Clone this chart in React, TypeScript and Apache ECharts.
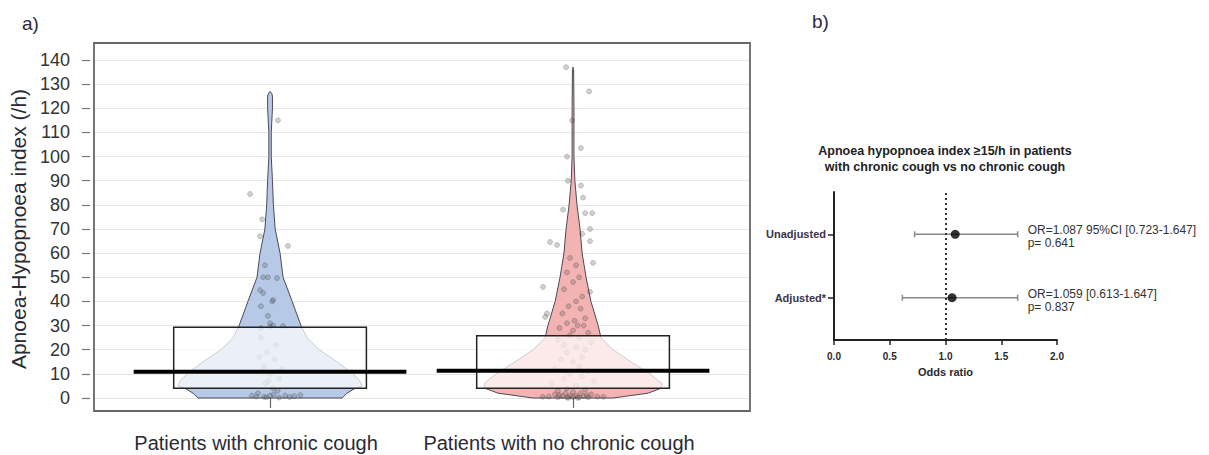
import React, { useEffect, useRef } from 'react';
import * as echarts from 'echarts';

// ---------- Panel a) data ----------
const categories = ['Patients with chronic cough', 'Patients with no chronic cough'];

const violinValuesCough = [0, 2, 4, 5, 7, 10, 15, 20, 25, 30, 40, 50, 60, 70, 80, 90, 100, 110, 120, 125, 126, 127];
const violinHalfCough = [0.238, 0.254, 0.281, 0.304, 0.297, 0.274, 0.221, 0.162, 0.122, 0.102, 0.073, 0.043, 0.033, 0.017, 0.011, 0.008, 0.004, 0.004, 0.008, 0.008, 0.006, 0.0];

const violinValuesNoCough = [0, 2, 4, 6, 10, 15, 20, 25, 30, 40, 50, 60, 70, 80, 90, 100, 120, 136, 137];
const violinHalfNoCough = [0.132, 0.248, 0.29, 0.294, 0.254, 0.191, 0.132, 0.092, 0.083, 0.059, 0.043, 0.03, 0.023, 0.013, 0.006, 0.003, 0.003, 0.002, 0.0];

const q1Values = [4, 4];
const medianValues = [10.9, 11.3];
const q3Values = [29.3, 25.8];

// [jitter, AHI]
const pointsCough = [
  [0.026, 115], [-0.066, 84.5], [-0.026, 74], [-0.033, 67], [0.059, 63], [-0.017, 55], [-0.023, 50], [-0.007, 50],
  [0.023, 49.7], [-0.033, 44.7], [-0.023, 43.5], [0.01, 40.6], [0.007, 40], [-0.03, 38], [-0.007, 34], [0, 31],
  [0.01, 30], [0.043, 29.8], [-0.03, 29], [0.0, 29.5], [-0.03, 25], [0.02, 22], [-0.01, 19], [0.015, 16],
  [-0.02, 13], [0, 10], [0.03, 8], [-0.015, 6], [0.01, 4], [-0.04, 2], [0, 1], [0.05, 1], [-0.02, 0.5],
  [0.08, 0.8], [0.1, 1.2], [-0.06, 1], [0.025, 3], [-0.005, 7], [0.04, 12], [-0.035, 17], [0.012, 1.5],
  [-0.012, 0.3], [0.03, 0.2], [0.065, 0.4], [-0.045, 0.6],
];

const pointsNoCough = [
  [-0.023, 137], [0.053, 127], [-0.003, 115], [0.026, 103.5], [-0.02, 100], [-0.017, 90], [0.026, 88], [0.033, 83],
  [-0.033, 78], [0.04, 76.6], [0.063, 76.6], [0.056, 70], [0.03, 68], [-0.076, 64.6], [-0.053, 63.4], [0.056, 65],
  [0.066, 56], [-0.099, 46], [0.056, 44], [-0.086, 35], [-0.092, 33.6],
  [-0.01, 58], [0.01, 55], [-0.02, 52], [0.02, 50], [0, 48], [-0.03, 45], [0.03, 42], [0.01, 40], [-0.015, 38],
  [0.025, 37], [-0.035, 35], [0.04, 33], [0.005, 32], [-0.02, 31], [0.015, 30], [0.035, 30], [-0.045, 29], [0, 28],
  [0.05, 27], [-0.01, 26], [0.02, 25], [-0.05, 24], [0.06, 23], [-0.03, 22], [0.01, 21], [0.04, 20], [-0.02, 19],
  [0.03, 17], [-0.04, 16], [0.0, 15], [0.02, 13], [-0.06, 12], [0.05, 11], [-0.01, 10], [0.03, 9], [-0.03, 8],
  [0.07, 7], [-0.07, 6], [0.01, 5], [-0.02, 4], [0.04, 3.5], [-0.05, 3], [0.0, 2.5], [0.025, 2], [-0.025, 2],
  [0.06, 1.5], [-0.06, 1.5], [0.01, 1], [-0.01, 1], [0.035, 0.8], [-0.035, 0.8], [0.08, 0.6], [-0.08, 0.6],
  [0.0, 0.4], [0.05, 0.3], [-0.05, 0.3], [0.02, 0.2], [-0.02, 0.2], [0.1, 0.5], [-0.1, 0.5], [0.015, 0.1],
  [-0.015, 0.1], [0.045, 1.2], [-0.045, 1.2],
];

// ---------- Panel b) data ----------
const forestRows = ['Unadjusted', 'Adjusted*'];
const orValues = [1.087, 1.059];
const ciLow = [0.723, 0.613];
const ciHigh = [1.647, 1.647];
const orLabels = ['OR=1.087 95%CI [0.723-1.647]', 'OR=1.059 [0.613-1.647]'];
const pLabels = ['p= 0.641', 'p= 0.837'];
const oddsTicks = [0, 0.5, 1, 1.5, 2];

export default function App() {
  const ref = useRef<HTMLDivElement>(null);

  useEffect(() => {
    const chart = echarts.init(ref.current as HTMLDivElement, null, { renderer: 'svg' });
    const FONT = "'Liberation Sans', Arial, sans-serif";

    const violins = [
      { values: violinValuesCough, half: violinHalfCough, fill: '#b6c9e7' },
      { values: violinValuesNoCough, half: violinHalfNoCough, fill: '#f3b3b3' },
    ];
    const rowY = forestRows.map((_, i) => 5 - 3 * i);

    const option: any = {
      animation: false,
      backgroundColor: '#ffffff',
      textStyle: { fontFamily: FONT },
      grid: [
        { left: 94, top: 60, width: 656, height: 338 },
        { left: 834, top: 192, width: 223, height: 148 },
      ],
      xAxis: [
        {
          gridIndex: 0,
          type: 'value',
          min: 0.419,
          max: 2.584,
          position: 'bottom',
          offset: 13,
          axisLine: { show: false },
          axisTick: { show: true, customValues: [1, 2], length: 10, lineStyle: { color: '#666', width: 1.2 } },
          axisLabel: {
            customValues: [1, 2],
            formatter: (v: number) => categories[Math.round(v) - 1] || '',
            fontSize: 20,
            margin: 22,
            padding: [0, 28, 0, 0],
            color: '#2a2a35',
            fontFamily: FONT,
          },
          splitLine: { show: false },
        },
        {
          gridIndex: 1,
          type: 'value',
          min: oddsTicks[0],
          max: oddsTicks[oddsTicks.length - 1],
          interval: 0.5,
          axisLine: { lineStyle: { color: '#222', width: 2 } },
          axisTick: { length: 5, lineStyle: { color: '#222', width: 1.5 } },
          axisLabel: {
            formatter: (v: number) => v.toFixed(1),
            fontSize: 10,
            fontWeight: 'bold',
            color: '#2a2a2a',
            margin: 11,
            fontFamily: FONT,
          },
          splitLine: { show: false },
          name: 'Odds ratio',
          nameLocation: 'middle',
          nameGap: 26,
          nameTextStyle: { fontSize: 11, fontWeight: 'bold', color: '#2a2a2a', fontFamily: FONT },
        },
      ],
      yAxis: [
        {
          gridIndex: 0,
          type: 'value',
          min: 0,
          max: 140,
          interval: 10,
          offset: 4,
          axisLine: { show: false },
          axisTick: { show: true, length: 8, lineStyle: { color: '#777', width: 1.2 } },
          axisLabel: { fontSize: 18, color: '#333', margin: 20, fontFamily: FONT },
          splitLine: { lineStyle: { color: '#e6e6e6', width: 1 } },
          name: 'Apnoea-Hypopnoea index (/h)',
          nameLocation: 'middle',
          nameGap: 56,
          nameTextStyle: { fontSize: 21, color: '#2a2a35', fontFamily: FONT },
        },
        {
          gridIndex: 1,
          type: 'value',
          min: 0,
          max: 7,
          axisLine: { show: true, lineStyle: { color: '#222', width: 2 } },
          axisTick: { show: true, customValues: rowY, length: 6, lineStyle: { color: '#222', width: 1.5 } },
          axisLabel: {
            customValues: rowY,
            formatter: (v: number) => forestRows[rowY.indexOf(v)] || '',
            fontSize: 11,
            fontWeight: 'bold',
            color: '#3b3346',
            margin: 8,
            fontFamily: FONT,
          },
          splitLine: { show: false },
        },
      ],
      graphic: [
        {
          type: 'rect',
          shape: { x: 94, y: 43, width: 656, height: 368 },
          style: { fill: 'none', stroke: '#666', lineWidth: 1.8 },
          z: 100,
          silent: true,
        },
        {
          type: 'text',
          x: 22,
          y: 14,
          style: { text: 'a)', fontSize: 19, fontFamily: FONT, fill: '#2a2a3a' },
        },
        {
          type: 'text',
          x: 812,
          y: 12,
          style: { text: 'b)', fontSize: 19, fontFamily: FONT, fill: '#2a2a3a' },
        },
        {
          type: 'text',
          x: 945,
          y: 143,
          style: {
            text: 'Apnoea hypopnoea index \u226515/h in patients\nwith chronic cough vs no chronic cough',
            fontSize: 12.5,
            fontWeight: 'bold',
            lineHeight: 16,
            align: 'center',
            fontFamily: FONT,
            fill: '#222',
          },
        },
      ],
      series: [
        {
          type: 'custom',
          name: 'violins',
          xAxisIndex: 0,
          yAxisIndex: 0,
          data: categories.map((_, i) => [i + 1, medianValues[i]]),
          z: 1,
          renderItem: (params: any, api: any) => {
            const i = params.dataIndex;
            const v = violins[i];
            const c = i + 1;
            const pts: number[][] = [];
            for (let k = 0; k < v.values.length; k++) pts.push(api.coord([c + v.half[k], v.values[k]]));
            for (let k = v.values.length - 1; k >= 0; k--) pts.push(api.coord([c - v.half[k], v.values[k]]));
            return {
              type: 'polygon',
              shape: { points: pts },
              style: { fill: v.fill, stroke: '#4a4a55', lineWidth: 1 },
            };
          },
        },
        {
          type: 'scatter',
          name: categories[0],
          xAxisIndex: 0,
          yAxisIndex: 0,
          data: pointsCough.map((p) => [1 + p[0], p[1]]),
          symbolSize: 5,
          itemStyle: { color: 'rgba(90,90,90,0.35)', borderColor: 'rgba(40,40,40,0.45)', borderWidth: 0.6 },
          z: 2,
        },
        {
          type: 'scatter',
          name: categories[1],
          xAxisIndex: 0,
          yAxisIndex: 0,
          data: pointsNoCough.map((p) => [2 + p[0], p[1]]),
          symbolSize: 5,
          itemStyle: { color: 'rgba(90,90,90,0.35)', borderColor: 'rgba(40,40,40,0.45)', borderWidth: 0.6 },
          z: 2,
        },
        {
          type: 'custom',
          name: 'boxes',
          xAxisIndex: 0,
          yAxisIndex: 0,
          data: categories.map((_, i) => [i + 1, medianValues[i]]),
          z: 3,
          renderItem: (params: any, api: any) => {
            const i = params.dataIndex;
            const c = i + 1;
            const tl = api.coord([c - 0.318, q3Values[i]]);
            const br = api.coord([c + 0.318, q1Values[i]]);
            const ml = api.coord([c - 0.45, medianValues[i]]);
            const mr = api.coord([c + 0.45, medianValues[i]]);
            return {
              type: 'group',
              children: [
                {
                  type: 'rect',
                  shape: { x: tl[0], y: tl[1], width: br[0] - tl[0], height: br[1] - tl[1] },
                  style: { fill: 'rgba(255,255,255,0.72)', stroke: '#222', lineWidth: 1.5 },
                },
                {
                  type: 'line',
                  shape: { x1: ml[0], y1: ml[1], x2: mr[0], y2: mr[1] },
                  style: { stroke: '#000', lineWidth: 4 },
                },
              ],
            };
          },
        },
        {
          type: 'custom',
          name: 'CI',
          xAxisIndex: 1,
          yAxisIndex: 1,
          data: forestRows.map((_, i) => [ciLow[i], rowY[i]]),
          z: 2,
          renderItem: (params: any, api: any) => {
            const i = params.dataIndex;
            const lo = api.coord([ciLow[i], rowY[i]]);
            const hi = api.coord([ciHigh[i], rowY[i]]);
            const st = { stroke: '#8a8a8a', lineWidth: 1.5 };
            return {
              type: 'group',
              children: [
                { type: 'line', shape: { x1: lo[0], y1: lo[1], x2: hi[0], y2: hi[1] }, style: st },
                { type: 'line', shape: { x1: lo[0], y1: lo[1] - 3, x2: lo[0], y2: lo[1] + 3 }, style: st },
                { type: 'line', shape: { x1: hi[0], y1: hi[1] - 3, x2: hi[0], y2: hi[1] + 3 }, style: st },
                {
                  type: 'text',
                  x: hi[0] + 10,
                  y: hi[1] - 4,
                  style: { text: orLabels[i], fontSize: 12, fontFamily: FONT, fill: '#333', align: 'left', verticalAlign: 'middle' },
                },
                {
                  type: 'text',
                  x: hi[0] + 10,
                  y: hi[1] + 9,
                  style: { text: pLabels[i], fontSize: 12, fontFamily: FONT, fill: '#333', align: 'left', verticalAlign: 'middle' },
                },
              ],
            };
          },
        },
        {
          type: 'scatter',
          name: 'OR',
          xAxisIndex: 1,
          yAxisIndex: 1,
          data: orValues.map((v, i) => [v, rowY[i]]),
          symbolSize: 9,
          itemStyle: { color: '#000' },
          z: 4,
          markLine: {
            silent: true,
            symbol: 'none',
            label: { show: false },
            lineStyle: { type: [2, 3], color: '#333', width: 2 },
            data: [{ xAxis: 1 }],
          },
        },
      ],
    };

    chart.setOption(option);
    return () => chart.dispose();
  }, []);

  return (
    <div
      ref={ref}
      style={{ position: 'fixed', left: 0, top: 0, width: 1209, height: 455, background: '#fff' }}
    />
  );
}
